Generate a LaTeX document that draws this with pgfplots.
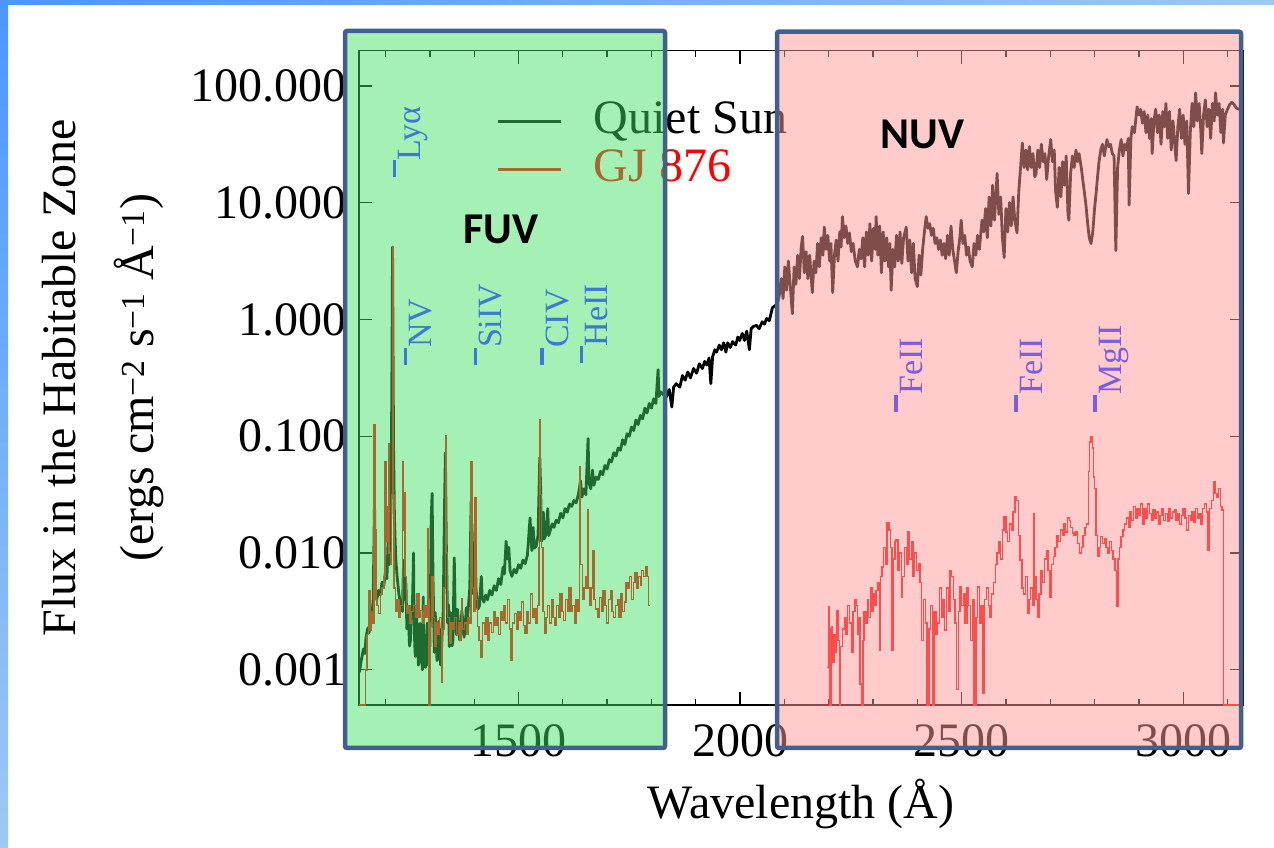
\documentclass[border=0pt]{standalone}
\usepackage{fontspec}
\setmainfont{Liberation Serif}
\newfontfamily\carlito{Carlito}
\usepackage{pgfplots}
\pgfplotsset{compat=1.18}
\definecolor{slideA}{RGB}{74,151,255}
\definecolor{slideB}{RGB}{158,200,246}
\definecolor{boxblue}{RGB}{65,96,140}
\definecolor{ovgreen}{rgb}{0.257,0.884,0.379}
\definecolor{ovpink}{rgb}{1,0.6,0.6}
\definecolor{fuvblue}{RGB}{58,122,214}
\definecolor{nuvpurple}{RGB}{124,92,226}
\newcommand{\bigfont}{\fontsize{48bp}{58bp}\selectfont}
\newcommand{\annofont}{\fontsize{34bp}{40bp}\selectfont}
\newcommand{\linebar}{\rule[0.72em]{0.5em}{0.1em}}
\begin{document}
\begin{tikzpicture}
\path[use as bounding box] (0,0) rectangle (1274bp,848bp);
\fill[white] (0,0) rectangle (1274bp,848bp);
\shade[top color=slideA, bottom color=slideB] (0,0) rectangle (8bp,848bp);
\shade[left color=slideA, right color=slideB] (0,843bp) rectangle (1274bp,848bp);
\begin{axis}[at={(359bp,143bp)}, anchor=south west, scale only axis,
  width=884bp, height=654.3bp, xmin=1140, xmax=3135, ymode=log, ymin=5e-4, ymax=200,
  xtick={1500,2000,2500,3000}, xticklabels={1500,2000,2500,3000},
  minor xtick={1200,1300,1400,1600,1700,1800,1900,2100,2200,2300,2400,2600,2700,2800,2900,3100},
  ytick={0.001,0.01,0.1,1,10,100},
  yticklabels={0.001,0.010,0.100,1.000,10.000,100.000},
  yminorticks=false,
  tick align=inside, major tick length=13bp, minor tick length=6.5bp,
  axis line style={line width=1.4bp},
  every tick/.style={black, line width=1.3bp},
  tick label style={font=\bigfont},
  xticklabel style={yshift=-16bp},
  yticklabel style={xshift=-9bp},
  xlabel={Wavelength (Å)},
  xlabel style={font=\bigfont, at={(axis description cs:0.5,0)}, anchor=base, yshift=-113bp},
  ylabel={Flux in the Habitable Zone\\(ergs cm\textsuperscript{−2} s\textsuperscript{−1} Å\textsuperscript{−1})},
  ylabel style={font=\fontsize{48bp}{78bp}\selectfont, align=center, inner sep=0pt,
    at={(axis description cs:-0.2897,0.5)}, anchor=center},
  legend style={at={(axis cs:1451.4,75.4)}, anchor=north west, draw=none, fill=none,
    inner sep=0pt, outer sep=0pt, row sep=0pt, font=\bigfont,
    nodes={inner sep=0pt, text height=33bp, text depth=15bp},
    /tikz/every odd column/.append style={column sep=31bp}},
  legend cell align=left,
]
\addplot[black, line width=2.8bp, line join=round,
  legend image code/.code={\draw[black, line width=3bp] (0bp,3bp) -- (63bp,3bp);}]
 coordinates {
(1141,0.000955) (1145,0.0012) (1150,0.00151) (1153,0.00138) (1156,0.00191) (1160,0.00229) (1163,0.00209) (1166,0.00282) (1170,0.00316) (1172,0.00398) (1175,0.0282) (1177,0.00501) (1180,0.00398) (1184,0.00479) (1188,0.00437) (1192,0.00562) (1196,0.00525) (1200,0.00708) (1203,0.00603) (1206,0.0141) (1208,0.00794) (1211,0.0158) (1213,0.0631) (1214.5,0.501) (1215.7,4.17) (1216.8,0.631) (1218,0.0794) (1220,0.02) (1223,0.00891) (1226,0.00631) (1230,0.00447) (1234,0.00355) (1238,0.00316) (1240,0.00708) (1242,0.00871) (1244,0.00398) (1246,0.0055) (1248,0.00224) (1250,0.0035) (1252,0.00263) (1254,0.0016) (1256,0.00178) (1258,0.0032) (1260,0.00282) (1262,0.0063) (1263,0.01) (1264,0.0035) (1265,0.002) (1267,0.0013) (1268,0.00141) (1270,0.0028) (1272,0.002) (1274,0.0011) (1276,0.0012) (1278,0.0025) (1280,0.00166) (1282,0.0012) (1283,0.001) (1285,0.0042) (1286,0.00141) (1288,0.0011) (1290,0.00105) (1292,0.0018) (1294,0.00251) (1296,0.0011) (1297,0.00126) (1299,0.0024) (1300,0.00158) (1303,0.02) (1305,0.0324) (1307,0.00631) (1310,0.00141) (1312,0.0031) (1314,0.002) (1316,0.0012) (1318,0.00132) (1320,0.0026) (1322,0.00178) (1324,0.0011) (1326,0.00141) (1328,0.0022) (1330,0.00316) (1333,0.0251) (1335,0.0724) (1337,0.0126) (1340,0.00251) (1342,0.0036) (1344,0.00158) (1346,0.0031) (1348,0.00224) (1350,0.0016) (1352,0.00178) (1355,0.00912) (1357,0.00316) (1360,0.002) (1362,0.0033) (1365,0.0024) (1367,0.0018) (1370,0.00209) (1372,0.0032) (1375,0.00251) (1377,0.0019) (1380,0.00229) (1382,0.0034) (1385,0.00282) (1390,0.00501) (1393,0.0275) (1395,0.00631) (1398,0.00447) (1402,0.0178) (1404,0.00501) (1408,0.00331) (1412,0.00355) (1416,0.00631) (1418,0.00417) (1422,0.0038) (1426,0.00437) (1430,0.00398) (1435,0.00479) (1440,0.00437) (1445,0.00525) (1450,0.00479) (1455,0.00603) (1460,0.00537) (1465,0.00759) (1468,0.00661) (1472,0.0126) (1475,0.00891) (1478,0.0112) (1481,0.00708) (1485,0.00631) (1490,0.00724) (1495,0.00676) (1500,0.00794) (1505,0.00741) (1510,0.00871) (1515,0.00813) (1520,0.00955) (1526,0.02) (1530,0.0105) (1533,0.0166) (1536,0.011) (1540,0.0115) (1544,0.0141) (1548,0.0661) (1550,0.0355) (1552,0.0126) (1556,0.0224) (1558,0.0132) (1562,0.0145) (1566,0.024) (1568,0.0141) (1572,0.0158) (1576,0.0178) (1580,0.0166) (1585,0.0191) (1590,0.0182) (1595,0.0219) (1600,0.02) (1605,0.024) (1610,0.0224) (1615,0.0263) (1620,0.0251) (1625,0.0282) (1630,0.0269) (1635,0.0316) (1640,0.0417) (1643,0.0302) (1648,0.0355) (1652,0.0316) (1657,0.0955) (1659,0.0398) (1663,0.0355) (1667,0.0513) (1670,0.038) (1675,0.0447) (1680,0.0427) (1685,0.0501) (1690,0.0468) (1695,0.0562) (1700,0.0525) (1705,0.0631) (1710,0.0603) (1715,0.0724) (1720,0.0676) (1725,0.0794) (1730,0.0759) (1735,0.0933) (1740,0.0851) (1745,0.105) (1750,0.1) (1755,0.12) (1760,0.112) (1765,0.138) (1770,0.126) (1775,0.151) (1780,0.141) (1785,0.174) (1790,0.158) (1795,0.191) (1800,0.174) (1805,0.209) (1810,0.191) (1815,0.372) (1817,0.219) (1821,0.24) (1826,0.229)
(1834,0.219) (1840,0.251) (1846,0.178) (1850,0.263) (1856,0.282) (1864,0.263) (1870,0.331) (1876,0.302) (1882,0.355) (1888,0.316) (1895,0.38) (1902,0.347) (1908,0.417) (1915,0.38) (1920,0.437) (1925,0.407) (1930,0.468) (1934,0.282) (1938,0.479) (1943,0.55) (1947,0.525) (1953,0.603) (1958,0.55) (1963,0.631) (1968,0.525) (1972,0.631) (1978,0.575) (1983,0.646) (1990,0.603) (1995,0.708) (1999,0.661) (2005,0.759) (2010,0.661) (2015,0.794) (2021,0.55) (2025,0.832) (2030,0.871) (2037,0.891) (2043,0.832) (2050,0.955) (2055,0.912) (2060,1.02) (2066,0.977) (2073,1.26) (2080,1.32)
(2085,1.41) (2089,1.66) (2093,2.24) (2097,1.51) (2101,2.82) (2105,1.78) (2109,3.16) (2113,2.0) (2118,1.12) (2122,2.82) (2126,2.0) (2130,3.55) (2134,2.24) (2138,4.17) (2141,5.13) (2145,2.51) (2149,3.8) (2153,2.24) (2157,3.55) (2163,1.7) (2167,3.16) (2171,2.51) (2175,4.47) (2179,2.82) (2183,5.01) (2187,3.55) (2190,6.17) (2194,3.98) (2198,5.25) (2202,3.16) (2205,4.47) (2209,1.7) (2213,3.55) (2217,4.79) (2221,3.16) (2225,5.62) (2228,4.17) (2231,7.59) (2235,5.01) (2239,6.31) (2243,4.47) (2247,5.5) (2251,3.8) (2255,4.47) (2260,3.16) (2265,2.82) (2269,3.98) (2273,3.31) (2277,5.01) (2281,2.82) (2285,5.62) (2289,3.55) (2293,6.61) (2297,3.16) (2301,6.03) (2305,3.98) (2307,7.59) (2311,3.55) (2315,6.31) (2319,2.51) (2323,5.62) (2327,3.16) (2331,5.01) (2335,2.82) (2338,4.47) (2341,1.78) (2345,3.98) (2349,2.82) (2353,5.25) (2357,3.16) (2361,5.62) (2365,3.02) (2369,5.01) (2375,6.17) (2379,3.16) (2383,4.79) (2387,2.51) (2391,4.47) (2395,2.24) (2400,1.91) (2404,3.55) (2408,2.4) (2412,3.98) (2416,5.62) (2420,7.59) (2424,6.03) (2428,6.61) (2432,5.25) (2436,6.03) (2440,4.47) (2444,5.01) (2448,3.98) (2452,4.79) (2456,3.55) (2460,4.47) (2464,3.31) (2468,5.25) (2472,3.55) (2476,6.31) (2480,3.98) (2484,3.16) (2488,2.51) (2492,3.8) (2496,5.01) (2499,7.08) (2503,4.47) (2507,5.25) (2511,3.55) (2515,4.17) (2519,3.16) (2524,2.82) (2528,4.47) (2532,3.55) (2536,5.25) (2540,3.98) (2546,7.08) (2550,5.62) (2554,8.91) (2558,5.01) (2562,11.2) (2566,6.31) (2570,14.1) (2574,7.08) (2578,12.6) (2580,17.8) (2584,7.94) (2588,11.2) (2592,5.01) (2596,3.39) (2600,8.91) (2604,5.62) (2608,10.0) (2612,6.31) (2616,11.2) (2620,7.08) (2625,5.5) (2629,12.6) (2633,20.0) (2637,32.4) (2641,20.0) (2645,28.2) (2649,19.1) (2653,30.2) (2657,20.0) (2661,26.3) (2665,16.6) (2668,17.8) (2672,28.2) (2676,20.0) (2680,31.6) (2684,22.4) (2688,26.3) (2692,15.8) (2696,24.0) (2701,34.7) (2705,22.4) (2709,28.2) (2712,12.6) (2716,9.12) (2720,20.0) (2724,11.2) (2728,22.4) (2732,14.1) (2736,25.1) (2740,7.94) (2742,7.08) (2746,17.8) (2750,25.1) (2754,20.0) (2758,28.2) (2762,22.4) (2765,26.3) (2770,20.0) (2775,14.1) (2780,10.0) (2785,6.31) (2788,5.01) (2792,4.47) (2796,5.62) (2800,8.91) (2804,12.6) (2806,15.5) (2810,22.4) (2814,28.2) (2818,31.6) (2822,25.1) (2828,34.7) (2832,30.2) (2836,31.6) (2840,26.3) (2844,25.1) (2848,3.89) (2852,20.0) (2856,28.2) (2860,34.7) (2864,25.1) (2868,31.6) (2872,28.2) (2876,35.5) (2878,9.55) (2882,35.5) (2885,44.7) (2890,39.8) (2896,66.1) (2900,56.2) (2904,63.1) (2908,47.9) (2912,60.3) (2916,39.8) (2920,56.2) (2924,35.5) (2928,52.5) (2930,26.3) (2934,50.1) (2938,63.1) (2942,39.8) (2946,56.2) (2950,31.6) (2954,60.3) (2958,44.7) (2961,70.8) (2965,35.5) (2969,60.3) (2973,28.2) (2977,50.1) (2981,31.6) (2984,22.9) (2988,44.7) (2992,63.1) (2996,35.5) (3000,56.2) (3004,31.6) (3008,50.1) (3012,12.0) (3016,39.8) (3020,70.8) (3024,44.7) (3028,87.1) (3032,50.1) (3036,70.8) (3040,39.8) (3042,26.3) (3046,56.2) (3050,75.9) (3054,44.7) (3058,63.1) (3062,35.5) (3066,70.8) (3070,50.1) (3073,87.1) (3077,56.2) (3081,70.8) (3085,39.8) (3089,63.1) (3091,32.4) (3095,56.2) (3100,63.1) (3105,69.2) (3110,72.4) (3115,69.2) (3120,64.6) (3126,63.1) (3132,61.7)
};
\addlegendentry{Quiet Sun}
\addplot[red, line width=1.4bp, const plot,
  legend image code/.code={\draw[red, line width=3bp] (0bp,3bp) -- (63bp,3bp);}]
 coordinates {
(1141,0.0005) (1152,0.0005) (1154,0.001) (1158,0.002) (1162,0.00479) (1165,0.00219) (1168,0.00316) (1171,0.00251) (1174,0.126) (1176,0.0158) (1178,0.00398) (1181,0.00355) (1184,0.00302) (1188,0.00447) (1192,0.00501) (1196,0.00631) (1199,0.0603) (1201,0.0126) (1204,0.0251) (1206,0.0871) (1208,0.01) (1211,0.00794) (1214,0.0316) (1215.5,4.17) (1217,0.0316) (1219,0.00501) (1222,0.00316) (1226,0.00398) (1230,0.00282) (1234,0.00355) (1238,0.0603) (1240,0.0158) (1242,0.0331) (1244,0.00631) (1247,0.00302) (1251,0.00355) (1255,0.00251) (1259,0.00316) (1263,0.00355) (1267,0.00282) (1271,0.00447) (1275,0.00282) (1279,0.00324) (1283,0.00251) (1287,0.00355) (1291,0.00282) (1294,0.0162) (1296,0.00398) (1298,0.0005) (1300,0.0005) (1302,0.00251) (1305,0.00631) (1308,0.00282) (1311,0.00158) (1314,0.00251) (1318,0.002) (1322,0.00282) (1326,0.000776) (1329,0.00224) (1332,0.00501) (1335,0.102) (1337,0.01) (1340,0.00282) (1344,0.0017) (1348,0.00251) (1352,0.00224) (1356,0.00282) (1360,0.002) (1364,0.00251) (1368,0.00178) (1371,0.00407) (1374,0.00224) (1378,0.00251) (1382,0.002) (1386,0.00282) (1390,0.00251) (1393,0.0603) (1395,0.00501) (1398,0.00316) (1402,0.0295) (1404,0.00398) (1407,0.00234) (1411,0.00178) (1415,0.00129) (1419,0.00251) (1423,0.002) (1427,0.00282) (1431,0.00178) (1435,0.00251) (1439,0.00209) (1443,0.00316) (1447,0.0024) (1451,0.00282) (1455,0.002) (1459,0.00316) (1463,0.00263) (1467,0.00355) (1471,0.00251) (1475,0.00398) (1479,0.00224) (1483,0.0012) (1487,0.00251) (1491,0.00302) (1495,0.00224) (1499,0.00316) (1503,0.00263) (1507,0.0038) (1511,0.0024) (1515,0.00204) (1519,0.00316) (1523,0.00251) (1527,0.00447) (1531,0.00282) (1535,0.00331) (1539,0.00251) (1543,0.00355) (1546,0.0112) (1548,0.138) (1550,0.0316) (1552,0.0112) (1555,0.00316) (1558,0.00204) (1562,0.00282) (1566,0.00355) (1570,0.00251) (1574,0.00398) (1578,0.00282) (1582,0.0024) (1586,0.00355) (1590,0.00282) (1594,0.00447) (1598,0.00316) (1602,0.00263) (1606,0.00398) (1610,0.00316) (1614,0.00501) (1618,0.00316) (1622,0.00355) (1626,0.00251) (1630,0.00398) (1634,0.00316) (1637,0.055) (1640,0.00794) (1644,0.00398) (1648,0.00501) (1652,0.00631) (1655,0.0234) (1657,0.00501) (1661,0.00355) (1665,0.00501) (1668,0.0105) (1670,0.00398) (1674,0.00331) (1679,0.00282) (1683,0.00417) (1687,0.00316) (1691,0.00479) (1695,0.00355) (1699,0.00251) (1703,0.00398) (1707,0.00479) (1711,0.00316) (1715,0.00282) (1719,0.00355) (1723,0.00398) (1727,0.00282) (1731,0.00447) (1735,0.00316) (1739,0.0038) (1743,0.00562) (1747,0.00501) (1751,0.00631) (1755,0.00398) (1759,0.00562) (1763,0.00676) (1767,0.00501) (1771,0.00631) (1775,0.00525) (1778,0.00708) (1782,0.00631) (1786,0.00759) (1790,0.00631) (1794,0.00355) (1796,0.00355)
};
\addlegendentry[text=red]{GJ 876}
\addplot[red, line width=1.4bp, const plot, forget plot]
 coordinates {
(2197,0.00105) (2199,0.00347) (2201,0.00224) (2203,0.0005) (2206,0.00234) (2209,0.00115) (2212,0.002) (2215,0.00141) (2218,0.00324) (2221,0.00178) (2224,0.0005) (2227,0.00158) (2231,0.00224) (2235,0.00282) (2239,0.002) (2243,0.00355) (2247,0.00251) (2251,0.00141) (2255,0.00316) (2259,0.00398) (2262,0.00355) (2265,0.002) (2268,0.00282) (2271,0.000759) (2274,0.0005) (2277,0.00178) (2280,0.00316) (2284,0.00251) (2287,0.00398) (2290,0.00282) (2294,0.00501) (2298,0.00316) (2301,0.00447) (2304,0.00355) (2307,0.00479) (2311,0.00562) (2314,0.00148) (2317,0.00631) (2320,0.00759) (2324,0.0112) (2328,0.00794) (2332,0.0182) (2336,0.0158) (2340,0.0112) (2343,0.00148) (2346,0.00891) (2350,0.0126) (2352,0.0129) (2356,0.00708) (2360,0.01) (2364,0.00417) (2367,0.00631) (2371,0.0112) (2375,0.00794) (2379,0.0151) (2383,0.00891) (2387,0.0126) (2390,0.00631) (2394,0.01) (2398,0.00708) (2402,0.00813) (2406,0.00562) (2410,0.00178) (2414,0.00398) (2418,0.00251) (2422,0.0005) (2426,0.00224) (2430,0.00355) (2434,0.0005) (2438,0.00316) (2442,0.002) (2446,0.00251) (2450,0.00501) (2454,0.00282) (2458,0.00398) (2462,0.00219) (2466,0.00501) (2470,0.00316) (2474,0.00708) (2477,0.00631) (2481,0.00398) (2485,0.00251) (2489,0.000676) (2493,0.00316) (2496,0.00513) (2500,0.00355) (2504,0.00447) (2508,0.00251) (2512,0.00501) (2516,0.00355) (2520,0.00178) (2524,0.00398) (2528,0.0005) (2532,0.00282) (2536,0.00513) (2540,0.00251) (2544,0.00355) (2548,0.000631) (2552,0.00398) (2556,0.00501) (2560,0.00355) (2564,0.00282) (2568,0.00447) (2572,0.00562) (2576,0.00794) (2580,0.01) (2584,0.0126) (2588,0.00891) (2592,0.0158) (2596,0.0204) (2600,0.0151) (2604,0.0126) (2608,0.0178) (2612,0.0158) (2616,0.0224) (2620,0.0302) (2624,0.0282) (2628,0.0141) (2632,0.00871) (2636,0.00501) (2640,0.00447) (2644,0.00631) (2648,0.00302) (2652,0.00398) (2656,0.00501) (2660,0.00355) (2663,0.0219) (2665,0.00631) (2668,0.00398) (2671,0.00282) (2675,0.00447) (2679,0.00708) (2683,0.00562) (2687,0.00891) (2691,0.0105) (2695,0.00708) (2699,0.00417) (2703,0.00794) (2707,0.00933) (2711,0.0112) (2715,0.0141) (2719,0.0126) (2723,0.0158) (2727,0.0141) (2731,0.0178) (2735,0.0151) (2739,0.02) (2743,0.0191) (2746,0.0166) (2750,0.0148) (2754,0.0141) (2758,0.0151) (2762,0.012) (2766,0.01) (2770,0.0112) (2774,0.0141) (2778,0.0166) (2782,0.0178) (2786,0.0501) (2789,0.0891) (2792,0.1) (2795,0.0794) (2797,0.0447) (2800,0.0355) (2803,0.0141) (2806,0.00933) (2810,0.0112) (2814,0.0138) (2818,0.012) (2822,0.0132) (2826,0.0112) (2830,0.01) (2834,0.0126) (2838,0.0105) (2842,0.00891) (2846,0.00708) (2850,0.00347) (2853,0.00891) (2856,0.0112) (2860,0.0138) (2864,0.0158) (2868,0.0178) (2872,0.02) (2876,0.0166) (2880,0.0224) (2884,0.0191) (2888,0.0251) (2892,0.02) (2896,0.024) (2900,0.0209) (2904,0.0263) (2908,0.0178) (2912,0.024) (2916,0.02) (2920,0.0263) (2924,0.0219) (2928,0.0191) (2932,0.0234) (2936,0.02) (2940,0.0224) (2944,0.0178) (2948,0.0209) (2952,0.024) (2956,0.0191) (2960,0.0219) (2964,0.0186) (2968,0.024) (2972,0.02) (2976,0.0224) (2980,0.0234) (2984,0.0191) (2988,0.0219) (2992,0.0178) (2996,0.0209) (3000,0.024) (3004,0.02) (3008,0.0158) (3012,0.0209) (3016,0.0191) (3020,0.0224) (3024,0.0182) (3028,0.024) (3032,0.02) (3036,0.0219) (3040,0.0178) (3044,0.024) (3048,0.0263) (3052,0.0224) (3056,0.0105) (3060,0.024) (3064,0.0282) (3068,0.0407) (3072,0.0324) (3076,0.0302) (3080,0.0355) (3084,0.0251) (3088,0.0234) (3091,0.0005) (3135,0.0005)
};
\end{axis}
\fill[ovgreen, fill opacity=0.475] (345bp,100bp) rectangle (665bp,817bp);
\draw[boxblue, line width=4.5bp, rounded corners=2bp] (345bp,100bp) rectangle (665bp,817bp);
\fill[ovpink, fill opacity=0.5] (777bp,100bp) rectangle (1241bp,816.3bp);
\draw[boxblue, line width=4.5bp, rounded corners=2bp] (777bp,100bp) rectangle (1241bp,816.3bp);
\begin{axis}[at={(359bp,143bp)}, anchor=south west, scale only axis,
  width=884bp, height=654.3bp, xmin=1140, xmax=3135, ymode=log, ymin=5e-4, ymax=200,
  hide axis, clip=false]
\node[rotate=90, anchor=north west, inner sep=0pt, font=\annofont, text=fuvblue] at (axis cs:1215.5,16.5) {\linebar Lyα};
\node[rotate=90, anchor=north west, inner sep=0pt, font=\annofont, text=fuvblue] at (axis cs:1240,0.406) {\linebar NV};
\node[rotate=90, anchor=north west, inner sep=0pt, font=\annofont, text=fuvblue] at (axis cs:1398,0.406) {\linebar SiIV};
\node[rotate=90, anchor=north west, inner sep=0pt, font=\annofont, text=fuvblue] at (axis cs:1549,0.406) {\linebar CIV};
\node[rotate=90, anchor=north west, inner sep=0pt, font=\annofont, text=fuvblue] at (axis cs:1638,0.42) {\linebar HeII};
\node[rotate=90, anchor=north west, inner sep=0pt, font=\annofont, text=nuvpurple] at (axis cs:2348,0.162) {\linebar FeII};
\node[rotate=90, anchor=north west, inner sep=0pt, font=\annofont, text=nuvpurple] at (axis cs:2618,0.162) {\linebar FeII};
\node[rotate=90, anchor=north west, inner sep=0pt, font=\annofont, text=nuvpurple] at (axis cs:2797,0.162) {\linebar MgII};
\end{axis}
\node[font=\carlito\bfseries\fontsize{44bp}{50bp}\selectfont] at (501bp,619bp) {FUV};
\node[font=\carlito\bfseries\fontsize{44bp}{50bp}\selectfont] at (922.5bp,714bp) {NUV};
\end{tikzpicture}
\end{document}
